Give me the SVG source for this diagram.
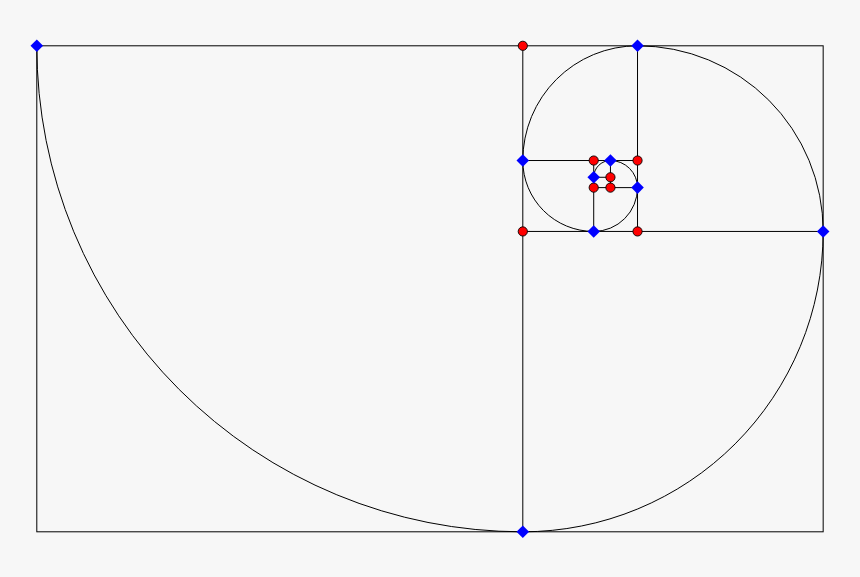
<svg xmlns="http://www.w3.org/2000/svg" xmlns:xlink="http://www.w3.org/1999/xlink" width="860" height="577" viewBox="0 0 860 577">
<style>
.ln{fill:none;stroke:#000;stroke-width:1}
.arc{fill:none;stroke:#000;stroke-width:1}
.ctr{fill:#f00;stroke:#000;stroke-width:0.9}
.pt{fill:#00f;stroke:none}
</style>
<defs>
<path id="dia" class="pt" d="M0,-6.3 L6.3,0 L0,6.3 L-6.3,0 Z"/>
<circle id="dot" class="ctr" r="4.6"/>
</defs>
<rect width="860" height="577" fill="#f7f7f7"/>
<g id="connectors">
<g id="grid">
<rect class="ln" x="36.8" y="45.8" width="786.37" height="486"/>
<line class="ln" x1="522.8" y1="45.8" x2="522.8" y2="531.8"/>
<line class="ln" x1="522.8" y1="231.44" x2="823.17" y2="231.44"/>
<line class="ln" x1="637.53" y1="45.8" x2="637.53" y2="231.44"/>
<line class="ln" x1="522.8" y1="160.53" x2="637.53" y2="160.53"/>
<line class="ln" x1="593.71" y1="160.53" x2="593.71" y2="231.44"/>
<line class="ln" x1="593.71" y1="187.62" x2="637.53" y2="187.62"/>
<line class="ln" x1="610.44" y1="160.53" x2="610.44" y2="187.62"/>
<line class="ln" x1="593.71" y1="177.27" x2="610.44" y2="177.27"/>
</g>
<g id="spiral">
<path class="arc" d="M36.8,45.8 A486,486 0 0 0 522.8,531.8"/>
<path class="arc" d="M522.8,531.8 A300.36,300.36 0 0 0 823.17,231.44"/>
<path class="arc" d="M823.17,231.44 A185.64,185.64 0 0 0 637.53,45.8"/>
<path class="arc" d="M637.53,45.8 A114.73,114.73 0 0 0 522.8,160.53"/>
<path class="arc" d="M522.8,160.53 A70.91,70.91 0 0 0 593.71,231.44"/>
<path class="arc" d="M593.71,231.44 A43.82,43.82 0 0 0 637.53,187.62"/>
<path class="arc" d="M637.53,187.62 A27.09,27.09 0 0 0 610.44,160.53"/>
<path class="arc" d="M610.44,160.53 A16.74,16.74 0 0 0 593.71,177.27"/>
</g>
</g>
<g id="centers">
<g id="c1"><use xlink:href="#dot" x="522.8" y="45.8"/></g>
<g id="c2"><use xlink:href="#dot" x="522.8" y="231.44"/></g>
<g id="c3"><use xlink:href="#dot" x="637.53" y="231.44"/></g>
<g id="c4"><use xlink:href="#dot" x="637.53" y="160.53"/></g>
<g id="c5"><use xlink:href="#dot" x="593.71" y="160.53"/></g>
<g id="c6"><use xlink:href="#dot" x="593.71" y="187.62"/></g>
<g id="c7"><use xlink:href="#dot" x="610.44" y="187.62"/></g>
<g id="c8"><use xlink:href="#dot" x="610.44" y="177.27"/></g>
</g>
<g id="points">
<g id="p0"><use xlink:href="#dia" x="36.8" y="45.8"/></g>
<g id="p1"><use xlink:href="#dia" x="522.8" y="531.8"/></g>
<g id="p2"><use xlink:href="#dia" x="823.17" y="231.44"/></g>
<g id="p3"><use xlink:href="#dia" x="637.53" y="45.8"/></g>
<g id="p4"><use xlink:href="#dia" x="522.8" y="160.53"/></g>
<g id="p5"><use xlink:href="#dia" x="593.71" y="231.44"/></g>
<g id="p6"><use xlink:href="#dia" x="637.53" y="187.62"/></g>
<g id="p7"><use xlink:href="#dia" x="610.44" y="160.53"/></g>
<g id="p8"><use xlink:href="#dia" x="593.71" y="177.27"/></g>
</g>
</svg>
